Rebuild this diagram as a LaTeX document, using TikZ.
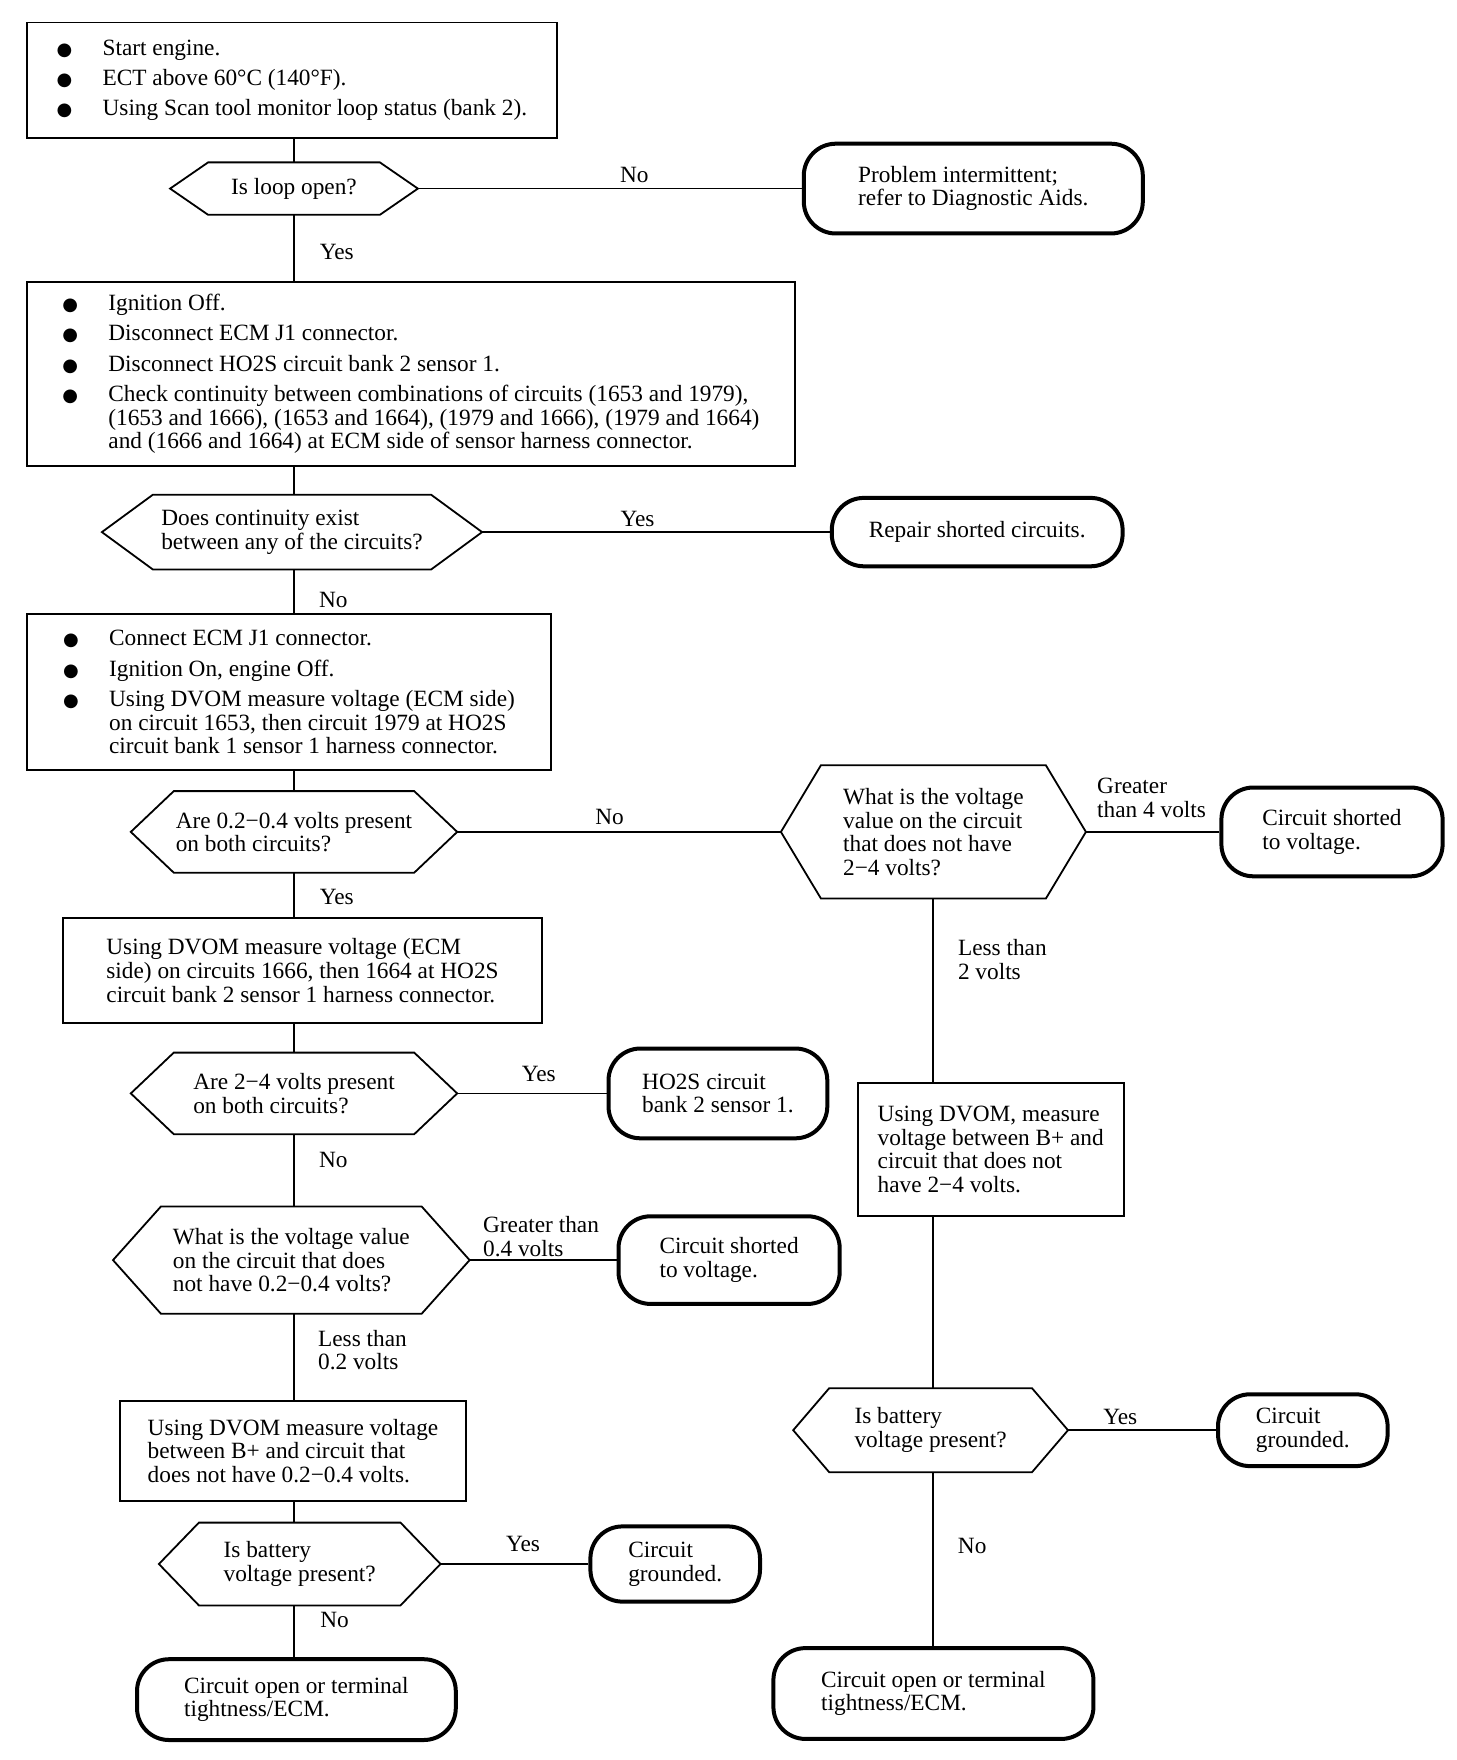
\documentclass[tikz,border=0pt]{standalone}
\usepackage{fontspec}
\setmainfont{Liberation Serif}
\newfontfamily\bulfont{DejaVu Sans}
\newcommand\bul{\makebox[23pt][l]{{\bulfont\fontsize{9pt}{11.8pt}\selectfont ●}}}
\newcommand\ind{\hspace*{23pt}}
\newcommand\hexpath[2]{\draw[hexline] ([xshift=#2*0.5pt]#1.north west) -- ([xshift=-#2*0.5pt]#1.north east) -- (#1.east) -- ([xshift=-#2*0.5pt]#1.south east) -- ([xshift=#2*0.5pt]#1.south west) -- (#1.west) -- cycle;}
\begin{document}
\begin{tikzpicture}[x=0.5pt,y=-0.5pt,
  every node/.style={font=\fontsize{11.65pt}{11.8pt}\selectfont, inner sep=0pt, align=left},
  procbox/.style={draw, line width=0.9pt},
  termbox/.style={draw, line width=2pt, rounded corners=16pt},
  hexline/.style={line width=0.9pt, line join=miter},
  conn/.style={line width=0.8pt}]
\useasboundingbox[fill=white] (0,0) rectangle (1456,1760);
\coordinate (colL) at (294,0);
\coordinate (colR) at (933,0);

% ---------- nodes ----------
\node[procbox, minimum width=265pt, minimum height=57.8pt] (a) at (291.9,80.3)
 {\bul Start engine.\\[3.4pt]\bul ECT above 60°C (140°F).\\[3.4pt]\bul Using Scan tool monitor loop status (bank 2).};
\node[minimum width=123.5pt, minimum height=25.8pt] (d1) at (294,188.6) {Is loop open?};
\node[termbox, minimum width=169.5pt, minimum height=44.9pt] (t1) at (973.3,188.6)
 {Problem intermittent;\\refer to Diagnostic Aids.};
\node[procbox, minimum width=384pt, minimum height=92pt] (b) at (410.9,373.8)
 {\bul Ignition Off.\\[3.4pt]\bul Disconnect ECM J1 connector.\\[3.4pt]\bul Disconnect HO2S circuit bank 2 sensor 1.\\[3.4pt]%
  \bul Check continuity between combinations of circuits (1653 and 1979),\\
  \ind(1653 and 1666), (1653 and 1664), (1979 and 1666), (1979 and 1664)\\
  \ind and (1666 and 1664) at ECM side of sensor harness connector.};
\node[minimum width=189.7pt, minimum height=37pt] (d2) at (292,532.1)
 {Does continuity exist\\between any of the circuits?};
\node[termbox, minimum width=145.4pt, minimum height=34.2pt] (t2) at (977.2,532.1) {Repair shorted circuits.};
\node[procbox, minimum width=262.2pt, minimum height=78pt] (c) at (289,692.1)
 {\bul Connect ECM J1 connector.\\[3.4pt]\bul Ignition On, engine Off.\\[3.4pt]%
  \bul Using DVOM measure voltage (ECM side)\\
  \ind on circuit 1653, then circuit 1979 at HO2S\\
  \ind circuit bank 1 sensor 1 harness connector.};
\node[minimum width=162.8pt, minimum height=40.4pt] (d3) at (294,831.9)
 {Are 0.2−0.4 volts present\\on both circuits?};
\node[minimum width=152.1pt, minimum height=66.2pt] (d4) at (933.4,831.9)
 {What is the voltage\\value on the circuit\\that does not have\\2−4 volts?};
\node[termbox, minimum width=110.6pt, minimum height=44.4pt] (t4) at (1332,831.9)
 {Circuit shorted\\to voltage.};
\node[procbox, minimum width=239.6pt, minimum height=52.2pt] (dd) at (302.5,970.5)
 {Using DVOM measure voltage (ECM\\side) on circuits 1666, then 1664 at HO2S\\circuit bank 2 sensor 1 harness connector.};
\node[minimum width=162.8pt, minimum height=40.4pt] (d5) at (294,1093.4)
 {Are 2−4 volts present\\on both circuits?};
\node[termbox, minimum width=109.4pt, minimum height=44.9pt] (t5) at (717.9,1093.4)
 {HO2S circuit\\bank 2 sensor 1.};
\node[minimum width=177.9pt, minimum height=53.3pt] (d6) at (291.3,1260.1)
 {What is the voltage value\\on the circuit that does\\not have 0.2−0.4 volts?};
\node[termbox, minimum width=110.6pt, minimum height=43.8pt] (t6) at (729.1,1260.1)
 {Circuit shorted\\to voltage.};
\node[procbox, minimum width=172.9pt, minimum height=50pt] (e) at (293,1451)
 {Using DVOM measure voltage\\between B+ and circuit that\\does not have 0.2−0.4 volts.};
\node[minimum width=140.4pt, minimum height=41pt] (d7) at (299.7,1564)
 {Is battery\\voltage present?};
\node[termbox, minimum width=84.8pt, minimum height=37.6pt] (t7) at (675.2,1564)
 {Circuit\\grounded.};
\node[termbox, minimum width=159.4pt, minimum height=40.4pt] (t10) at (296.4,1699.6)
 {Circuit open or terminal\\tightness/ECM.};
\node[procbox, minimum width=133pt, minimum height=66.2pt] (g) at (990.7,1149.5)
 {Using DVOM, measure\\voltage between B+ and\\circuit that does not\\have 2−4 volts.};
\node[minimum width=137pt, minimum height=41.6pt] (d8) at (930.6,1430.2)
 {Is battery\\voltage present?};
\node[termbox, minimum width=84.8pt, minimum height=35.9pt] (t8) at (1302.8,1430.2)
 {Circuit\\grounded.};
\node[termbox, minimum width=160pt, minimum height=45.4pt] (t9) at (933.4,1693.5)
 {Circuit open or terminal\\tightness/ECM.};

% ---------- hexagons ----------
\hexpath{d1}{38}
\hexpath{d2}{51}
\hexpath{d3}{43}
\hexpath{d4}{40}
\hexpath{d5}{43}
\hexpath{d6}{48}
\hexpath{d7}{40}
\hexpath{d8}{36}

% ---------- connectors ----------
\draw[conn] (a.south -| colL) -- (d1.north -| colL);
\draw[conn] (d1.south -| colL) -- (b.north -| colL);
\draw[conn] (b.south -| colL) -- (d2.north -| colL);
\draw[conn] (d2.south -| colL) -- (c.north -| colL);
\draw[conn] (c.south -| colL) -- (d3.north -| colL);
\draw[conn] (d3.south -| colL) -- (dd.north -| colL);
\draw[conn] (dd.south -| colL) -- (d5.north -| colL);
\draw[conn] (d5.south -| colL) -- (d6.north -| colL);
\draw[conn] (d6.south -| colL) -- (e.north -| colL);
\draw[conn] (e.south -| colL) -- (d7.north -| colL);
\draw[conn] (d7.south -| colL) -- (t10.north -| colL);
\draw[conn] (d1.east) -- (t1.west);
\draw[conn] (d2.east) -- (t2.west);
\draw[conn] (d3.east) -- (d4.west);
\draw[conn] (d4.east) -- (t4.west);
\draw[conn] (d5.east) -- (t5.west);
\draw[conn] (d6.east) -- (t6.west);
\draw[conn] (d7.east) -- (t7.west);
\draw[conn] (d8.east) -- (t8.west);
\draw[conn] (d4.south -| colR) -- (g.north -| colR);
\draw[conn] (g.south -| colR) -- (d8.north -| colR);
\draw[conn] (d8.south -| colR) -- (t9.north -| colR);

% ---------- labels ----------
\node (l1) at (634.3,175.1) {No};
\node (l2) at (336.8,251.5) {Yes};
\node (l3) at (637.6,518.6) {Yes};
\node (l4) at (333.4,599.5) {No};
\node (l5) at (609.6,817.3) {No};
\node[anchor=west] (l6) at (1096.8,797.6) {Greater\\than 4 volts};
\node (l7) at (336.8,897) {Yes};
\node[anchor=west] (l8) at (957.6,959.3) {Less than\\2 volts};
\node (l9) at (538.8,1074.3) {Yes};
\node (l10) at (333.4,1159.6) {No};
\node[anchor=west] (l11) at (482.7,1236.5) {Greater than\\0.4 volts};
\node[anchor=west] (l12) at (317.7,1349.9) {Less than\\0.2 volts};
\node (l13) at (1120.3,1416.7) {Yes};
\node (l14) at (523.1,1543.6) {Yes};
\node (l15) at (972.2,1545.8) {No};
\node (l16) at (334.5,1619.9) {No};
\end{tikzpicture}
\end{document}
